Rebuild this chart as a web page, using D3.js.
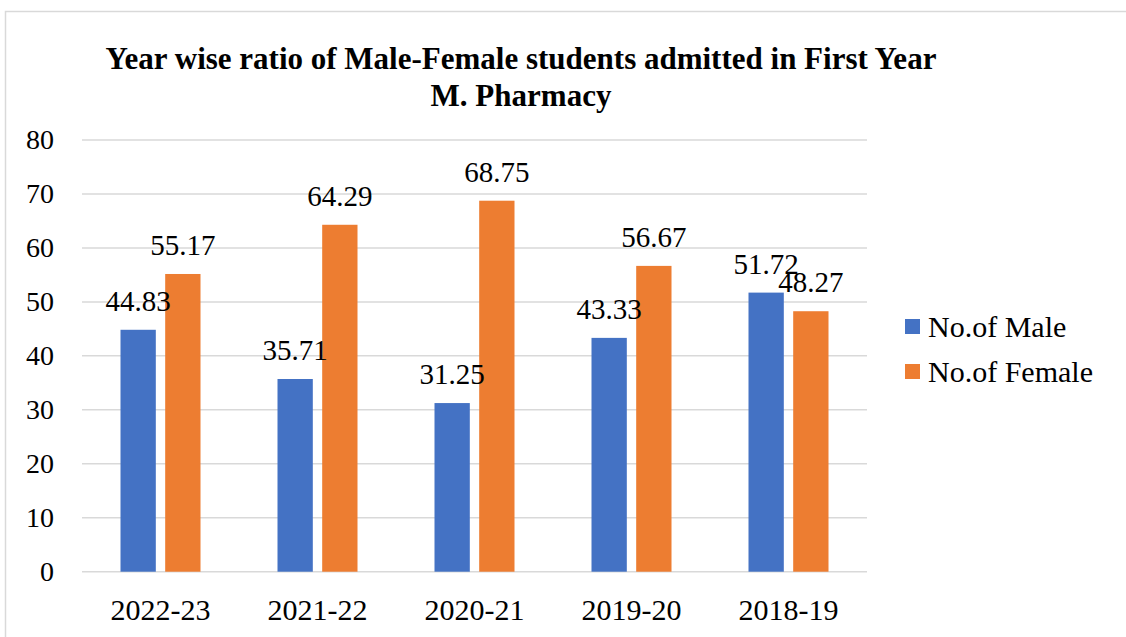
<!DOCTYPE html>
<html>
<head>
<meta charset="utf-8">
<script src="https://cdn.jsdelivr.net/npm/d3@7"></script>
<style>
  body { margin: 0; background: #fff; }
  svg text { font-family: "Times New Roman", "Liberation Serif", "DejaVu Serif", serif !important; fill: #000; }
</style>
</head>
<body>
<div id="chart"></div>
<script>
// chart data
var years = ["2022-23", "2021-22", "2020-21", "2019-20", "2018-19"];
var seriesNames = ["No.of Male", "No.of Female"];
var maleValues = [44.83, 35.71, 31.25, 43.33, 51.72];
var femaleValues = [55.17, 64.29, 68.75, 56.67, 48.27];
var yTicks = [0, 10, 20, 30, 40, 50, 60, 70, 80];
var colors = ["#4472C4", "#ED7D31"];

var svgWidth = 1126;
var svgHeight = 637;

var margin = { top: 140, bottom: 65.3, left: 82, right: 259 };
var width = svgWidth - margin.left - margin.right;
var height = svgHeight - margin.top - margin.bottom;

var svg = d3.select("#chart")
  .append("svg")
  .attr("width", svgWidth)
  .attr("height", svgHeight);

// outer frame
svg.append("rect")
  .attr("x", 5.5)
  .attr("y", 11.5)
  .attr("width", 1140)
  .attr("height", 660)
  .attr("fill", "none")
  .attr("stroke", "#d9d9d9")
  .attr("stroke-width", 1.5);

// title
var title = svg.append("text")
  .attr("text-anchor", "middle")
  .attr("font-weight", "bold")
  .attr("font-size", 31);
title.append("tspan").attr("x", 521).attr("y", 69)
  .text("Year wise ratio of Male-Female students admitted in First Year");
title.append("tspan").attr("x", 521).attr("y", 106)
  .text("M. Pharmacy");

var chartGroup = svg.append("g")
  .attr("transform", `translate(${margin.left}, ${margin.top})`);

// scales
var x0 = d3.scaleBand()
  .domain(years)
  .range([0, width])
  .padding(0);

var x1 = d3.scaleBand()
  .domain(seriesNames)
  .range([-40, 40])
  .paddingInner(0.21)
  .paddingOuter(0);

var yScale = d3.scaleLinear()
  .domain([0, 80])
  .range([height, 0]);

// gridlines
chartGroup.selectAll("line.grid")
  .data(yTicks)
  .enter()
  .append("line")
  .attr("class", "grid")
  .attr("x1", 0)
  .attr("x2", width)
  .attr("y1", d => yScale(d))
  .attr("y2", d => yScale(d))
  .attr("stroke", "#d9d9d9")
  .attr("stroke-width", 1.5);

// y axis labels
var yAxis = d3.axisLeft(yScale).tickValues(yTicks).tickSize(0).tickPadding(28);
chartGroup.append("g")
  .call(yAxis)
  .call(g => g.select(".domain").remove())
  .selectAll("text")
  .attr("font-size", 28)
  .attr("fill", "#000");

// x axis labels
var xAxis = d3.axisBottom(x0).tickSize(0).tickPadding(27);
chartGroup.append("g")
  .attr("transform", `translate(0, ${height})`)
  .call(xAxis)
  .call(g => g.select(".domain").remove())
  .selectAll("text")
  .attr("font-size", 30)
  .attr("fill", "#000");

// bars
var rows = years.map(function(yr, i) {
  return { year: yr, values: [maleValues[i], femaleValues[i]] };
});

var groups = chartGroup.selectAll("g.year")
  .data(rows)
  .enter()
  .append("g")
  .attr("class", "year")
  .attr("transform", d => `translate(${x0(d.year) + x0.bandwidth() / 2}, 0)`);

groups.selectAll("rect")
  .data(d => d.values.map((v, j) => ({ name: seriesNames[j], value: v, idx: j })))
  .enter()
  .append("rect")
  .attr("x", d => x1(d.name))
  .attr("y", d => yScale(d.value))
  .attr("width", x1.bandwidth())
  .attr("height", d => height - yScale(d.value))
  .attr("fill", d => colors[d.idx]);

// value labels
groups.selectAll("text.val")
  .data(d => d.values.map((v, j) => ({ name: seriesNames[j], value: v })))
  .enter()
  .append("text")
  .attr("class", "val")
  .attr("x", d => x1(d.name) + x1.bandwidth() / 2)
  .attr("y", d => yScale(d.value) - 19)
  .attr("text-anchor", "middle")
  .attr("font-size", 29)
  .text(d => d.value.toFixed(2));

// legend
var legend = svg.selectAll("g.legend")
  .data(seriesNames)
  .enter()
  .append("g")
  .attr("class", "legend")
  .attr("transform", (d, i) => `translate(905, ${319 + i * 45})`);

legend.append("rect")
  .attr("width", 15)
  .attr("height", 15)
  .attr("fill", (d, i) => colors[i]);

legend.append("text")
  .attr("x", 23)
  .attr("y", 18)
  .attr("font-size", 30)
  .text(d => d);
</script>
</body>
</html>
